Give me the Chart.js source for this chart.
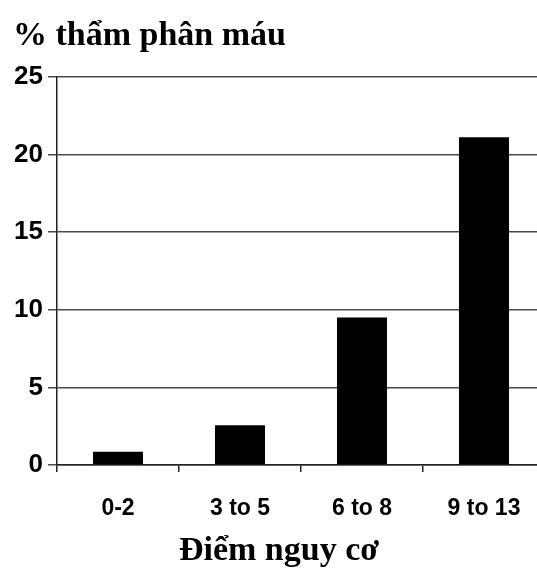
<!DOCTYPE html>
<html>
<head>
<meta charset="utf-8">
<script src="https://cdn.jsdelivr.net/npm/chart.js@4/dist/chart.umd.min.js"></script>
<style>
  html, body { margin: 0; padding: 0; background: #fff; overflow: hidden; }
  canvas { display: block; }
</style>
</head>
<body>
<canvas id="chart" width="545" height="568"></canvas>
<script>
// Risk-score groups and the share of patients on dialysis (%)
const categories = ['0-2', '3 to 5', '6 to 8', '9 to 13'];
const dialysisPercent = [0.86, 2.56, 9.5, 21.1];
const yTicks = [0, 5, 10, 15, 20, 25];

const chartTitle = '% thẩm phân máu';
const axisTitle = 'Điểm nguy cơ';

const sansBold = (size) => ({ family: '"Liberation Sans", Arial, sans-serif', size, weight: 'bold', lineHeight: 1.2 });
const serifBold = (size, lineHeight) => ({ family: '"Liberation Serif", "Times New Roman", serif', size, weight: 'bold', lineHeight });

new Chart(document.getElementById('chart'), {
  type: 'bar',
  data: {
    labels: categories,
    datasets: [{
      data: dialysisPercent,
      backgroundColor: '#000',
      borderWidth: 0,
      categoryPercentage: 1,
      barPercentage: 0.41
    }]
  },
  options: {
    responsive: false,
    animation: false,
    layout: { padding: { left: 13, right: 0, top: 0, bottom: 0 } },
    plugins: {
      legend: { display: false },
      tooltip: { enabled: false },
      title: {
        display: true,
        text: chartTitle,
        align: 'start',
        color: '#000',
        font: serifBold(34, 1.2),
        padding: { top: 16, bottom: 20 }
      },
      subtitle: {
        display: true,
        text: axisTitle,
        position: 'bottom',
        align: 'center',
        color: '#000',
        font: serifBold(34, 1.0),
        padding: { top: 0, bottom: 0 }
      }
    },
    scales: {
      x: {
        offset: true,
        border: { display: true, color: '#222', width: 1.5 },
        grid: {
          offset: true,
          drawOnChartArea: false,
          drawTicks: true,
          tickLength: 7,
          tickColor: '#222',
          lineWidth: 1.5
        },
        ticks: {
          color: '#000',
          font: sansBold(23),
          padding: 23,
          maxRotation: 0
        },
        afterFit: (scale) => { scale.height = 69; }
      },
      y: {
        min: 0,
        max: 25,
        afterBuildTicks: (scale) => { scale.ticks = yTicks.map(v => ({ value: v })); },
        border: { display: true, color: '#222', width: 1.5 },
        grid: {
          color: '#4a4a4a',
          lineWidth: 1.5,
          drawTicks: true,
          tickLength: 9,
          tickColor: '#4a4a4a'
        },
        ticks: {
          color: '#000',
          font: sansBold(26),
          padding: 5
        },
        afterFit: (scale) => { scale.width = 44; }
      }
    }
  }
});
</script>
</body>
</html>
